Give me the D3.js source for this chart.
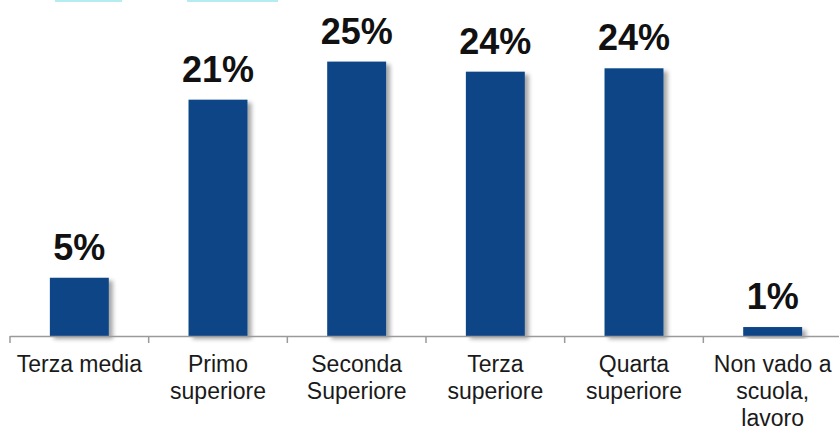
<!DOCTYPE html>
<html><head><meta charset="utf-8">
<script src="https://cdn.jsdelivr.net/npm/d3@7"></script>
<style>html,body{margin:0;padding:0;background:#fff;}svg{display:block;}</style>
</head><body>
<script>
const categories = [["Terza media"], ["Primo", "superiore"], ["Seconda", "Superiore"], ["Terza", "superiore"], ["Quarta", "superiore"], ["Non vado a", "scuola,", "lavoro"]];
const values = [5.2, 21.1, 24.5, 23.6, 23.9, 0.8];
const valueLabels = ["5%", "21%", "25%", "24%", "24%", "1%"];

const W = 839, H = 430;
const svg = d3.select("body").append("svg").attr("width", W).attr("height", H);

const defs = svg.append("defs");
const f = defs.append("filter").attr("id", "sh").attr("x", "-20%").attr("y", "-20%").attr("width", "150%").attr("height", "150%");
f.append("feDropShadow").attr("dx", 4).attr("dy", 3).attr("stdDeviation", 2).attr("flood-color", "#000").attr("flood-opacity", 0.35);

// decorative cut-off shapes at top
svg.append("rect").attr("x", 55).attr("y", 0).attr("width", 67).attr("height", 2).attr("fill", "#b4ecef");
svg.append("rect").attr("x", 187).attr("y", 0).attr("width", 91).attr("height", 2).attr("fill", "#b4ecef");

const x = d3.scaleBand().domain(d3.range(categories.length)).range([10, 842]).paddingInner(0.575).paddingOuter(0.2875);
const y = d3.scaleLinear().domain([0, 30]).range([336, 0]);

svg.append("g").selectAll("rect").data(values).join("rect")
  .attr("x", (d, i) => x(i)).attr("width", x.bandwidth())
  .attr("y", d => y(d)).attr("height", d => y(0) - y(d))
  .attr("fill", "#0a4586").attr("filter", "url(#sh)");

svg.append("g").selectAll("text").data(values).join("text")
  .attr("x", (d, i) => x(i) + x.bandwidth() / 2)
  .attr("y", d => y(d) - 18)
  .attr("text-anchor", "middle")
  .attr("font-family", "Liberation Sans, Arial, sans-serif")
  .attr("font-weight", "bold").attr("font-size", 36).attr("fill", "#111")
  .text((d, i) => valueLabels[i]);

// axis
const step = x.step();
const ax = svg.append("g");
ax.append("line").attr("x1", 10).attr("x2", 842).attr("y1", 336.5).attr("y2", 336.5).attr("stroke", "#9a9a9a").attr("stroke-width", 1.5);
ax.selectAll("line.t").data(d3.range(categories.length + 1)).join("line").attr("class", "t")
  .attr("x1", i => 10 + i * step).attr("x2", i => 10 + i * step)
  .attr("y1", 336).attr("y2", 343).attr("stroke", "#9a9a9a").attr("stroke-width", 1.5);

const lab = svg.append("g").selectAll("text").data(categories).join("text")
  .attr("x", (d, i) => x(i) + x.bandwidth() / 2)
  .attr("y", 372)
  .attr("text-anchor", "middle")
  .attr("font-family", "Liberation Sans, Arial, sans-serif")
  .attr("font-size", 23).attr("fill", "#1a1a1a");
lab.selectAll("tspan").data(d => d).join("tspan")
  .attr("x", function () { return d3.select(this.parentNode).attr("x"); })
  .attr("dy", (d, j) => j === 0 ? 0 : 27)
  .text(d => d);
</script>
</body></html>
